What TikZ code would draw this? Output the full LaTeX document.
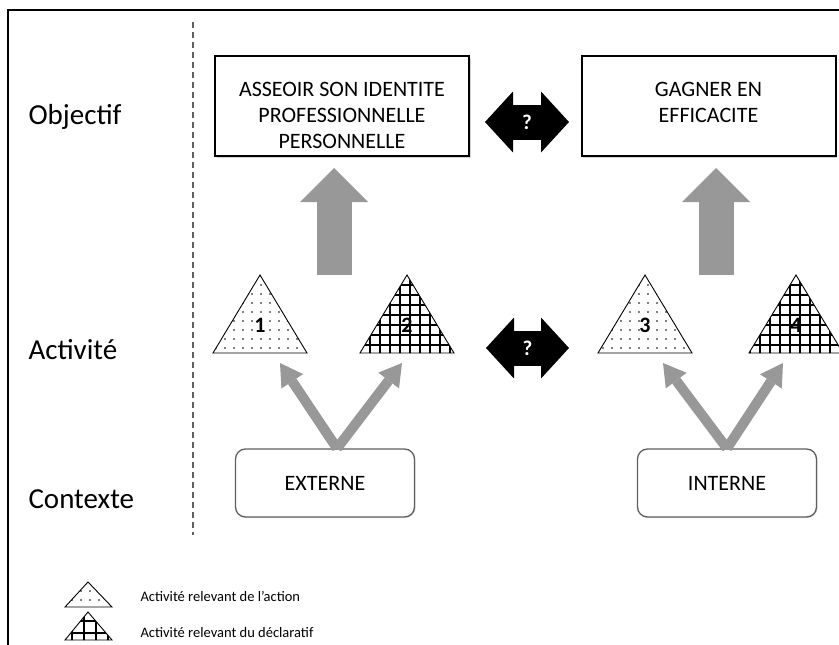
\documentclass[tikz,border=0pt]{standalone}
\usepackage{fontspec}
\setmainfont{Carlito}
\usetikzlibrary{arrows.meta,patterns.meta,positioning,shadows}
\definecolor{arrowgray}{RGB}{152,152,152}
\definecolor{edgegray}{RGB}{95,95,95}

\begin{document}
\begin{tikzpicture}[x=1pt,y=-1pt,
  every node/.style={font=\fontsize{22}{26}\selectfont},
  objbox/.style={draw,line width=2pt,fill=white,inner sep=0pt,
    minimum width=254pt,minimum height=100pt,
    drop shadow={shadow xshift=1.5pt,shadow yshift=-1.5pt,fill=black!35}},
  objtext/.style={align=center,inner sep=0pt},
  ctxbox/.style={draw=edgegray,line width=1.3pt,rounded corners=10pt,fill=white,
    minimum width=179pt,minimum height=68pt,
    drop shadow={shadow xshift=1pt,shadow yshift=-1pt,fill=black!25}},
  rowlabel/.style={anchor=base west,font=\fontsize{29}{34}\selectfont},
  legendtext/.style={anchor=base west,font=\fontsize{14.5}{17}\selectfont},
  tri/.style={draw,line width=0.9pt},
  dotfill/.style={pattern={Dots[distance=9pt,radius=0.85pt]}},
  gridfill/.style={pattern={Hatch[distance=10pt,line width=1.1pt]}},
  trinum/.style={font=\bfseries\fontsize{22}{26}\selectfont},
  uparrow/.style={arrowgray,line width=35pt,shorten >=11pt,
    -{Triangle[length=34pt,width=68pt,line width=0pt]}},
  diagarrow/.style={arrowgray,line width=10pt,
    -{Triangle[length=22pt,width=26pt,line width=0pt]}},
  qarrow/.style={black,line width=35pt,
    {Triangle[length=28pt,width=61pt,line width=0pt]}-{Triangle[length=28pt,width=61pt,line width=0pt]}},
  qmark/.style={text=white,font=\bfseries\fontsize{21}{24}\selectfont}]
  \useasboundingbox (0,0) rectangle (839,645);
  \draw[line width=2.5pt] (8,646) -- (8,10) -- (840,10);
  \draw[edgegray,line width=1.5pt,dash pattern=on 6pt off 4pt] (193,22) -- (193,535);

  \node[rowlabel] (lobj) at (25,124) {Objectif};
  \node[rowlabel] (lact) at (25,359) {Activité};
  \node[rowlabel] (lctx) at (25,508) {Contexte};

  \node[objbox] (obj1) at (342,106) {};
  \node[objbox] (obj2) at (708.5,106) {};
  \node[objtext,below=27pt of obj1.north] (txt1) {ASSEOIR SON IDENTITE\\PROFESSIONNELLE\\PERSONNELLE};
  \node[objtext,below=27pt of obj2.north] (txt2) {GAGNER EN\\EFFICACITE};

  \coordinate (q1a) at (485,122);
  \coordinate (q1b) at (569,122);
  \draw[qarrow] (q1a) -- (q1b) node[midway,qmark] (qm1) {?};

  \coordinate (up1) at (334,275);
  \coordinate (up2) at (716,275);
  \draw[uparrow] (up1) -- (up1 |- obj1.south);
  \draw[uparrow] (up2) -- (up2 |- obj2.south);

  \foreach \apx/\num/\kind in {260/1/dotfill,407/2/gridfill,645/3/dotfill,796/4/gridfill}{
    \draw[tri,\kind] (\apx,275) -- (\apx-47,353) -- (\apx+47,353) -- cycle;
    \node[trinum] (n\num) at (\apx,325) {\num};
  }

  \coordinate (q2a) at (486,348);
  \coordinate (q2b) at (569,348);
  \draw[qarrow] (q2a) -- (q2b) node[midway,qmark] (qm2) {?};

  \node[ctxbox] (ext) at (325,483) {EXTERNE};
  \node[ctxbox] (int) at (727,483) {INTERNE};
  \coordinate (t1) at (280,363);
  \coordinate (t2) at (402,363);
  \coordinate (t3) at (663,363);
  \coordinate (t4) at (783,363);
  \draw[diagarrow] ([xshift=12pt]ext.north) -- (t1);
  \draw[diagarrow] ([xshift=12pt]ext.north) -- (t2);
  \draw[diagarrow] (int.north) -- (t3);
  \draw[diagarrow] (int.north) -- (t4);

  \draw[tri,pattern={Dots[distance=9pt,radius=0.85pt]}] (88,582) -- (65,607) -- (112,607) -- cycle;
  \draw[tri,pattern={Hatch[distance=12pt,line width=1.1pt]}] (88,612) -- (65,640) -- (112,640) -- cycle;
  \node[legendtext] (leg1) at (137,601) {Activité relevant de l’action};
  \node[legendtext] (leg2) at (137,637) {Activité relevant du déclaratif};
\end{tikzpicture}
\end{document}
